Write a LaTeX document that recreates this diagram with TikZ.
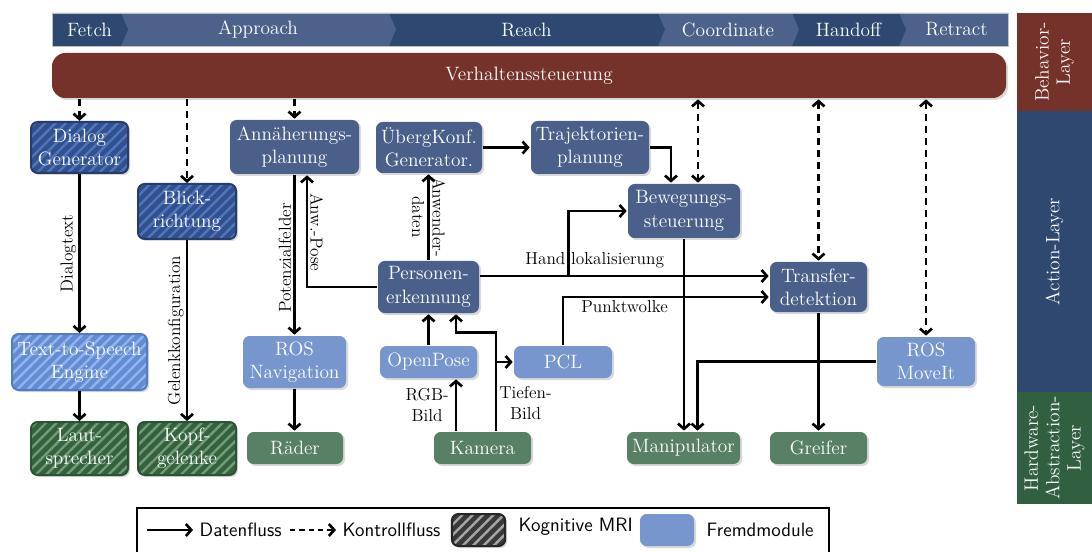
\documentclass[tikz,border=0pt]{standalone}
\usetikzlibrary{arrows.meta,calc,shadows,patterns.meta}

\definecolor{phasedark}{RGB}{46,72,113}
\definecolor{phaselight}{RGB}{76,98,138}
\definecolor{behavred}{RGB}{117,50,42}
\definecolor{actblue}{RGB}{74,96,138}
\definecolor{extblue}{RGB}{118,150,205}
\definecolor{hwgreen}{RGB}{88,128,100}
\definecolor{mribase}{RGB}{50,80,140}
\definecolor{mristripe}{RGB}{78,118,192}
\definecolor{mriedge}{RGB}{38,60,105}
\definecolor{ttsbase}{RGB}{100,140,210}
\definecolor{ttsstripe}{RGB}{145,180,240}
\definecolor{ttsedge}{RGB}{85,122,192}
\definecolor{hwbase}{RGB}{52,98,62}
\definecolor{hwstripe}{RGB}{115,155,120}
\definecolor{hwedge}{RGB}{42,82,52}
\definecolor{layerred}{RGB}{117,50,42}
\definecolor{layerblue}{RGB}{46,72,112}
\definecolor{layergreen}{RGB}{48,96,64}

\tikzset{every picture/.style={line width=2pt}}
\tikzset{
  modbox/.style={rounded corners=5pt, align=center, text=white, inner sep=1pt,
    minimum width=73pt, minimum height=39pt, font=\fontsize{14.5}{17.5}\selectfont,
    drop shadow={shadow xshift=1.5pt, shadow yshift=-1.5pt, opacity=0.3}},
  actbox/.style={modbox, fill=actblue},
  extbox/.style={modbox, fill=extblue},
  hwbox/.style={modbox, fill=hwgreen},
  hatched/.style 2 args={preaction={fill=#1},
    pattern={Lines[angle=45,distance=5.5pt,line width=1.8pt]}, pattern color=#2},
  mriblue/.style={modbox, draw=mriedge, line width=1.5pt, hatched={mribase}{mristripe}},
  mritts/.style={modbox, draw=ttsedge, line width=1.5pt, hatched={ttsbase}{ttsstripe}},
  mrigreen/.style={modbox, draw=hwedge, line width=1.5pt, hatched={hwbase}{hwstripe}},
  lbl/.style={font=\fontsize{13}{15.5}\selectfont, inner sep=1.5pt, align=center},
  legtxt/.style={font=\sffamily\fontsize{14.5}{17}\selectfont, inner sep=1pt},
  sidetxt/.style={rotate=90, text=white, align=center, font=\fontsize{14.5}{16}\selectfont},
  barb/.tip={Straight Barb[length=4pt,width=9pt]},
  flow/.style={-barb, line width=2pt},
  ctrl/.style={flow, dash pattern=on 5pt off 4pt},
  ctrlboth/.style={ctrl, barb-barb}
}

\begin{document}
\begin{tikzpicture}[x=0.75pt,y=0.75pt,yscale=-1,xscale=1]
\useasboundingbox (0,0) rectangle (1092,552);

% Phases
\foreach \xa/\xb/\tip/\col/\name in {899/1008/0/phaselight/Retract, 792/899/7/phasedark/Handoff,
  658/792/7/phaselight/Coordinate, 389/658/7/phasedark/Reach, 121/389/7/phaselight/Approach,
  52/121/7/phasedark/Fetch}{
  \fill[\col] (\xa,13) -- (\xb,13) -- ({\xb+\tip},29.5) -- (\xb,46) -- (\xa,46) -- cycle;
  \node[text=white, font=\fontsize{14.5}{17}\selectfont] (\name) at ({(\xa+\xb)/2+3},29.5) {\name};
}
\draw[gray!50, line width=0.6pt] (52,13) rectangle (1008,46);

% Behavior
\node[fill=behavred, rounded corners=10pt, minimum width=715.5pt, minimum height=33.75pt,
  text=white, font=\fontsize{14.5}{17}\selectfont,
  drop shadow={shadow xshift=1.5pt, shadow yshift=-1.5pt, opacity=0.3}] (bar) at (529,75.5) {Verhaltenssteuerung};

% Layers
\fill[layerred] (1017,13) rectangle (1092,111);
\fill[layerblue] (1017,111) rectangle (1092,392);
\fill[layergreen] (1017,392) rectangle (1092,504);
\node[sidetxt] (behavior) at (1054.5,62) {Behavior-\\Layer};
\node[sidetxt] (action) at (1054.5,251.5) {Action-Layer};
\node[sidetxt] (hal) at (1054.5,448) {Hardware-\\Abstraction-\\Layer};

% Action modules
\node[mriblue, minimum width=72.75pt, minimum height=38.25pt] (dialog) at (79.5,147.5) {Dialog\\Generator};
\node[mriblue, minimum width=73.5pt, minimum height=41.25pt] (blick) at (187,211.5) {Blick-\\richtung};
\node[actbox, minimum width=96.75pt, minimum height=40.5pt] (ann) at (294.5,147) {Annäherungs-\\planung};
\node[actbox, minimum width=79.5pt, minimum height=38.25pt] (ueb) at (429,147.5) {ÜbergKonf.\\Generator.};
\node[actbox, minimum width=88.5pt, minimum height=39.75pt] (traj) at (590,147.5) {Trajektorien-\\planung};
\node[actbox, minimum width=84pt, minimum height=40.5pt] (bew) at (684,211) {Bewegungs-\\steuerung};
\node[actbox, minimum width=75.75pt, minimum height=39pt] (pers) at (428.5,287) {Personen-\\erkennung};
\node[actbox, minimum width=72.75pt, minimum height=37.5pt] (trans) at (818.5,287) {Transfer-\\detektion};

% Fremdmodule
\node[mritts, minimum width=101.25pt, minimum height=42pt] (tts) at (79.5,362) {Text-to-Speech\\Engine};
\node[extbox, minimum width=77.25pt, minimum height=39pt] (nav) at (294.5,362) {ROS\\Navigation};
\node[extbox, minimum width=72.75pt, minimum height=24pt] (openpose) at (428.5,362) {OpenPose};
\node[extbox, minimum width=73.5pt, minimum height=24pt] (pcl) at (563,362) {PCL};
\node[extbox, minimum width=73.5pt, minimum height=36.75pt] (moveit) at (926,361.5) {ROS\\MoveIt};

% Hardware
\node[mrigreen, minimum width=72.75pt, minimum height=39.75pt] (laut) at (79.5,448.5) {Laut-\\sprecher};
\node[mrigreen, minimum width=73.5pt, minimum height=39.75pt] (kopf) at (187,448.5) {Kopf-\\gelenke};
\node[hwbox, minimum width=72pt, minimum height=24pt] (raeder) at (295,448) {Räder};
\node[hwbox, minimum width=72.75pt, minimum height=24pt] (kamera) at (482.5,448) {Kamera};
\node[hwbox, minimum width=84.75pt, minimum height=24pt] (manip) at (683.5,448) {Manipulator};
\node[hwbox, minimum width=72.75pt, minimum height=24pt] (greifer) at (818.5,448) {Greifer};

% Control flow
\draw[ctrl] (dialog.north |- bar.south) -- (dialog.north);
\draw[ctrl] (blick.north |- bar.south) -- (blick.north);
\draw[ctrl] (ann.north |- bar.south) -- (ann.north);
\coordinate (bewctrl) at ($(bew.north)+(14,0)$);
\draw[ctrlboth] (bewctrl |- bar.south) -- (bewctrl);
\draw[ctrlboth] (trans.north |- bar.south) -- (trans.north);
\draw[ctrlboth] (moveit.north |- bar.south) -- (moveit.north);

% Data flow
\draw[flow] (dialog) -- node[lbl, rotate=90, above] (dlgtxt) {Dialogtext} (tts);
\draw[flow] (tts) -- (laut);
\draw[flow] (blick) -- node[lbl, rotate=90, above] (gelenk) {Gelenkkonfiguration} (kopf);
\draw[flow] (ann) -- node[lbl, rotate=90, above, pos=0.52] (potfeld) {Potenzialfelder} (nav);
\draw[flow] (nav.south) -- (nav.south |- raeder.north);
\draw[flow] (pers.west) -| node[lbl, rotate=-90, above, pos=0.745] (anwpose) {Anw.-Pose} ($(ann.south)+(12.5,0)$);
\draw[flow] (pers.north) -- node[lbl, rotate=-90] (anwdaten) {Anwender-\\daten} (pers.north |- ueb.south);
\draw[flow] (ueb) -- (traj);
\draw[flow] (traj.east) -| ($(bew.north)+(-13,0)$);
\coordinate (handsrc) at ($(pers.east)+(0,-11)$);
\draw[flow] (handsrc) -- (handsrc -| trans.west);
\coordinate (handsplit) at ($(handsrc)+(88,0)$);
\draw[flow] (handsplit) |- (bew.west);
\node[lbl, anchor=base west] (handlbl) at (522,265) {Hand lokalisierung};
\draw[flow] (pcl.north) |- node[lbl, below, pos=0.65] (punkt) {Punktwolke} ($(trans.west)+(0,10)$);
\draw[flow] (openpose) -- (pers);
\coordinate (kamrgb) at ($(kamera.north)+(-26.5,0)$);
\draw[flow] (kamrgb) -- node[lbl, left=3pt] (rgb) {RGB-\\Bild} (kamrgb |- openpose.south);
\coordinate (kamdepth) at ($(kamera.north)+(13.5,0)$);
\draw[flow] (kamdepth) -- node[lbl, right, pos=0.28] (tiefen) {Tiefen-\\Bild} ++(0,-98) -| ($(pers.south)+(27.5,0)$);
\draw[flow] (kamdepth |- pcl.west) -- (pcl.west);
\draw[flow] (bew.south) -- (bew.south |- manip.north);
\draw[flow] (moveit.west) -| ($(manip.north)+(14,0)$);
\draw[flow] (trans) -- (greifer);

% Legend
\draw[line width=0.8pt] (137,508) rectangle (829,556);
\coordinate (lgflowa) at (147,530);
\coordinate (lgflowb) at (193,530);
\draw[flow] (lgflowa) -- (lgflowb);
\node[legtxt, anchor=west] (lgdata) at (197,530) {Datenfluss};
\coordinate (lgctrla) at (290,530);
\coordinate (lgctrlb) at (336,530);
\draw[ctrl, dash pattern=on 4pt off 3pt] (lgctrla) -- (lgctrlb);
\node[legtxt, anchor=west] (lgctrl) at (340,530) {Kontrollfluss};
\node[modbox, draw=gray!30!black, line width=1.5pt, hatched={gray!45!black}{gray!70},
  minimum width=40pt, minimum height=24pt] (lgmri) at (478.5,530) {};
\node[legtxt, anchor=west] (lgmritxt) at (516,527) {Kognitive MRI};
\node[extbox, minimum width=40.5pt, minimum height=24pt] (lgext) at (667,530) {};
\node[legtxt, anchor=west] (lgexttxt) at (704,530) {Fremdmodule};

\end{tikzpicture}
\end{document}
